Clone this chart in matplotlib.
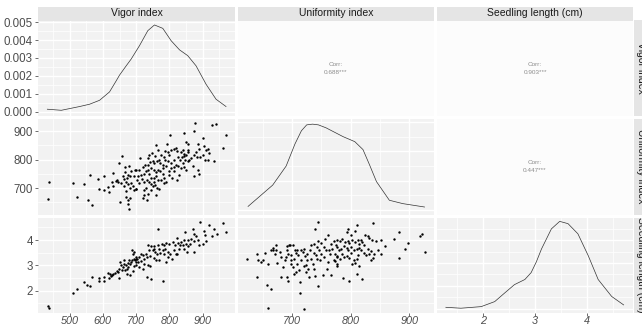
import matplotlib
matplotlib.use('Agg')
import matplotlib.pyplot as plt

plt.rcParams['font.family'] = ['Liberation Sans', 'DejaVu Sans']

# ---------------- data ----------------
variables = ['Vigor index', 'Uniformity index', 'Seedling length (cm)']
corr_labels = {(0, 1): '0.688***', (0, 2): '0.903***', (1, 2): '0.447***'}

# density curves (diagonal)
vigor_dens_x = [433, 475, 530, 560, 590, 620, 640, 650, 670, 685, 710, 735, 755, 780, 805, 830, 855, 880, 910,
                940, 970]
vigor_dens_y = [0.00013, 0.00007, 0.00028, 0.00041, 0.00063, 0.0011, 0.00172, 0.00204, 0.00256, 0.00294,
                0.00369, 0.00453, 0.00485, 0.00466, 0.00397, 0.00346, 0.00313, 0.00256, 0.00153, 0.00069,
                0.00028]
uni_dens_x = [625, 667, 690, 705, 716, 725, 735, 745, 758, 787, 807, 821, 832, 844, 866, 889, 926]
uni_dens_y = [0.00025, 0.0017, 0.0030, 0.0045, 0.0054, 0.0058, 0.00585, 0.0058, 0.0056, 0.0050, 0.00466,
              0.00412, 0.0031, 0.00194, 0.00067, 0.00044, 0.00021]
len_dens_x = [1.29, 1.58, 1.97, 2.23, 2.42, 2.61, 2.81, 2.93, 3.03, 3.13, 3.32, 3.48, 3.64, 3.83, 4.03, 4.22,
              4.48, 4.71]
len_dens_y = [0.012, 0.004, 0.018, 0.062, 0.137, 0.211, 0.256, 0.316, 0.41, 0.524, 0.70, 0.766, 0.746, 0.657,
              0.464, 0.256, 0.107, 0.033]

# scatter: vigor (x) vs uniformity (y)
vu_vigor = [439, 434, 511, 522, 542, 554, 562, 567, 586, 589, 602, 604, 614, 619, 626, 629, 630, 639, 642, 646,
            647, 652, 654, 656, 659, 662, 664, 666, 666, 668, 669, 670, 672, 674, 676, 679, 680, 682, 684, 682,
            675, 678, 690, 692, 694, 697, 699, 701, 684, 674,
            877, 927, 940, 970, 803, 843, 873, 900, 960, 792, 760, 850, 857, 887, 903, 910, 915, 890, 880, 875,
            883, 893, 900, 907, 920, 933, 917, 713, 740, 747, 758, 767, 775, 787, 795, 805, 815, 820, 835, 843,
            845, 850, 855, 837, 847, 855, 840, 845, 850, 835, 825, 820, 813, 805, 795, 787, 780, 773, 763, 755,
            750, 743, 735, 727, 720, 710, 700, 705, 715, 725, 730, 737, 745, 753, 760, 765, 773, 780, 785, 790,
            783, 775, 767, 760, 755, 745, 740, 733, 725, 717, 710, 700, 723, 730, 735, 745, 750, 757, 763, 770,
            760, 733, 720, 725, 800, 805, 813, 823, 830, 873, 890, 885, 870, 860, 865, 823, 800, 783, 815, 825,
            833, 840, 857, 745, 753, 740, 780, 790, 798, 807, 770, 735]
vu_uni = [723, 662, 718, 667, 715, 659, 747, 641, 732, 696, 741, 694, 703, 685, 720, 753, 706, 726, 727, 723,
          789, 650, 718, 814, 741, 733, 706, 773, 756, 688, 670, 723, 735, 745, 714, 776, 700, 741, 718, 665,
          643, 627, 706, 741, 694, 765, 697, 729, 759, 659,
          930, 921, 926, 888, 886, 894, 900, 876, 841, 855, 853, 862, 855, 855, 847, 833, 838, 838, 826, 818,
          808, 808, 818, 800, 823, 796, 797, 806, 818, 823, 812, 835, 815, 829, 827, 835, 839, 841, 826, 820,
          812, 818, 826, 808, 800, 794, 788, 773, 765, 770, 776, 782, 773, 788, 796, 800, 782, 788, 794, 788,
          794, 790, 782, 782, 773, 765, 765, 741, 747, 749, 759, 765, 770, 765, 756, 765, 759, 749, 735, 723,
          718, 729, 729, 741, 735, 737, 723, 729, 721, 733, 718, 698, 694, 700, 679, 694, 706, 712, 700, 696,
          674, 659, 665, 676, 759, 770, 759, 729, 747, 741, 749, 765, 776, 800, 806, 829, 815, 808, 800, 808,
          800, 835, 835, 714, 721, 749, 770, 776, 747, 735, 800, 806]

# scatter: vigor (x) vs seedling length (y)
vl_vigor = [434, 439, 511, 521, 542, 552, 562, 567, 587, 589, 602, 604, 614, 617, 622, 624, 627, 630, 636, 642,
            644, 647, 649, 652, 654, 656, 659, 662, 664, 666, 669, 671, 672, 674, 676, 679, 681, 682, 684, 686,
            688, 689, 691, 692, 694, 696, 698, 700, 702, 692,
            765, 892, 920, 935, 960, 970, 847, 870, 875, 903, 907, 927, 943, 910, 900, 890, 880, 885, 873, 865,
            855, 845, 835, 823, 827, 817, 810, 800, 790, 785, 777, 770, 765, 755, 745, 735, 740, 750, 757, 763,
            773, 780, 787, 795, 803, 813, 820, 830, 840, 850, 857, 863, 853, 875, 843, 730, 720, 710, 700, 705,
            715, 725, 733, 743, 753, 760, 770, 790, 797, 807, 700, 720, 737, 743, 732, 745, 780, 823, 833, 783,
            753, 715, 725, 710]
vl_len = [1.38, 1.33, 1.91, 2.07, 2.34, 2.21, 2.17, 2.54, 2.51, 2.37, 2.54, 2.37, 2.70, 2.51, 2.65, 2.57, 2.61,
          2.67, 2.70, 2.78, 2.74, 2.50, 2.87, 3.13, 3.00, 2.83, 2.93, 3.07, 3.20, 2.80, 3.00, 2.87, 2.65, 3.09,
          2.93, 3.22, 2.61, 3.04, 3.13, 3.22, 3.59, 3.46, 2.78, 3.26, 2.96, 3.20, 3.33, 3.13, 3.26, 3.53,
          4.45, 4.72, 4.58, 4.45, 4.67, 4.32, 4.32, 4.45, 4.25, 4.35, 4.18, 4.14, 4.25, 3.96, 3.86, 3.79, 4.14,
          3.99, 3.96, 4.05, 4.01, 3.99, 3.92, 4.09, 3.88, 3.79, 3.92, 3.86, 3.88, 3.79, 3.86, 3.66, 3.79, 3.75,
          3.75, 3.79, 3.59, 3.59, 3.53, 3.46, 3.49, 3.59, 3.66, 3.53, 3.43, 3.59, 3.43, 3.66, 3.79, 3.86, 3.75,
          3.86, 3.53, 3.53, 3.66, 3.46, 3.40, 3.33, 3.26, 3.13, 3.17, 3.26, 3.33, 3.36, 3.30, 3.20, 3.20, 3.13,
          3.33, 3.26, 3.00, 2.87, 3.00, 2.96, 2.54, 2.45, 2.38, 3.43, 3.79, 3.46, 3.66, 3.46, 3.07, 2.93]

# scatter: uniformity (x) vs seedling length (y)
ul_uni = [623, 641, 640, 642, 647, 651, 654, 657, 659, 664, 659, 664, 667, 668, 671, 672, 674, 680, 682, 685,
          688, 689, 691, 692, 693, 695, 697, 698, 699, 691, 693, 701, 701, 703, 704, 705, 707, 708, 709, 711,
          712, 714, 714, 715, 716, 718, 720, 721, 721, 722, 724, 725, 726, 728, 729, 731, 732, 733, 735, 737,
          738, 739, 739, 741, 742, 743, 745, 745, 745, 746, 748, 749, 750, 752, 754, 755, 756, 758, 759, 761,
          762, 763, 765, 766, 767, 769, 771, 772, 773, 775, 776, 738, 724, 707, 698, 672, 682,
          838, 810, 796, 793, 800, 807, 776, 782, 786, 790, 795, 798, 803, 808, 813, 817, 820, 825, 829, 832,
          836, 844, 851, 858, 874, 883, 897, 892, 918, 922, 927, 883, 776, 780, 784, 789, 793, 796, 801, 806,
          810, 814, 818, 823, 827, 831, 835, 838, 840, 851, 847, 777, 781, 785, 789, 794, 798, 801, 806, 811,
          813, 774, 776, 777, 802, 808, 814, 787, 798, 811, 819, 834, 829, 823, 815]
ul_len = [3.25, 3.43, 2.54, 3.22, 3.13, 3.20, 3.50, 2.21, 3.04, 2.05, 1.33, 3.59, 3.62, 3.70, 3.43, 3.79, 3.09,
          3.53, 2.54, 2.93, 3.20, 3.33, 3.59, 3.75, 3.46, 3.79, 3.79, 3.22, 3.07, 2.54, 2.38, 3.79, 2.93, 2.67,
          3.26, 3.59, 3.49, 3.62, 3.07, 3.40, 2.80, 2.34, 1.91, 3.59, 3.20, 3.53, 2.96, 1.29, 3.66, 3.36, 2.74,
          3.43, 3.20, 2.87, 2.54, 3.59, 3.26, 3.79, 3.07, 3.86, 3.49, 2.57, 4.45, 3.40, 3.26, 3.72, 3.96, 4.71,
          2.17, 3.59, 3.20, 3.88, 3.46, 2.61, 3.72, 3.33, 4.05, 3.59, 2.87, 4.18, 3.13, 3.59, 3.46, 3.86, 2.61,
          3.66, 3.20, 3.96, 3.46, 3.79, 3.33, 2.87, 3.00, 2.74, 3.40, 3.59, 3.33,
          4.67, 4.58, 4.45, 4.32, 4.18, 4.35, 3.99, 3.96, 4.05, 3.92, 3.96, 3.88, 3.99, 3.92, 4.01, 4.01, 3.92,
          4.18, 4.14, 4.09, 3.99, 3.96, 4.01, 3.75, 4.05, 4.32, 3.88, 3.66, 4.14, 4.22, 3.53, 3.30, 3.72, 3.59,
          3.66, 3.75, 3.70, 3.59, 3.72, 3.62, 3.66, 3.70, 3.59, 3.49, 3.40, 3.43, 3.57, 3.30, 3.43, 3.43, 3.59,
          3.36, 3.26, 3.43, 3.33, 3.36, 3.30, 3.49, 3.20, 3.26, 3.40, 3.17, 2.96, 3.07, 3.04, 3.09, 2.96, 2.51,
          2.38, 2.65, 2.47, 3.20, 3.66, 3.79, 3.86]

# axis settings
vig_lim = (405, 997)
uni_lim = (607, 943)
len_lim = (1.12, 4.89)
vig_major = [500, 600, 700, 800, 900]
vig_minor = [450, 550, 650, 750, 850, 950]
uni_major = [700, 800, 900]
uni_minor = [650, 750, 850]
len_major = [2, 3, 4]
len_minor = [1.5, 2.5, 3.5, 4.5]
dens_major = [0.000, 0.001, 0.002, 0.003, 0.004, 0.005]
dens_labels = ['0.000', '0.001', '0.002', '0.003', '0.004', '0.005']

# ---------------- figure ----------------
W, H = 642, 327
fig = plt.figure(figsize=(W / 100, H / 100), dpi=100)
fig.patch.set_facecolor('white')

cols = [(38, 235), (237.5, 434.5), (437, 633)]
rows = [(20.5, 116), (119, 214.5), (217.5, 313)]

PANEL_BG = '#F2F2F2'
STRIP_BG = '#E5E5E5'
TICK_COL = '#4D4D4D'


def box(x0, y0, x1, y1):
    return [x0 / W, 1 - y1 / H, (x1 - x0) / W, (y1 - y0) / H]


xlims = [vig_lim, uni_lim, len_lim]
xmaj = [vig_major, uni_major, len_major]
xmin = [vig_minor, uni_minor, len_minor]


def style(ax, r, c, ylim, ymaj, ymin):
    ax.set_facecolor(PANEL_BG)
    for s in ax.spines.values():
        s.set_visible(False)
    ax.set_xlim(*xlims[c])
    ax.set_ylim(*ylim)
    ax.set_xticks(xmaj[c])
    ax.set_xticks(xmin[c], minor=True)
    ax.set_yticks(ymaj)
    ax.set_yticks(ymin, minor=True)
    ax.grid(which='major', color='white', linewidth=1.0)
    ax.grid(which='minor', color='white', linewidth=0.5)
    ax.set_axisbelow(True)
    ax.tick_params(which='minor', length=0)
    ax.tick_params(axis='y', which='major', length=2.2, width=0.5, color='#333333', pad=1.5,
                   labelsize=8.3, labelcolor=TICK_COL)
    ax.tick_params(axis='x', which='major', length=1.8, width=0.5, color='#333333', pad=0.6,
                   labelsize=7.8, labelcolor=TICK_COL)
    if r != 2:
        ax.tick_params(axis='x', which='major', length=0, labelbottom=False)
    else:
        for lab in ax.get_xticklabels():
            lab.set_fontstyle('italic')
    if c != 0:
        ax.tick_params(axis='y', which='major', length=0, labelleft=False)


row_specs = [
    ((-0.00025, 0.0051), dens_major, [0.0005, 0.0015, 0.0025, 0.0035, 0.0045]),
    (uni_lim, uni_major, uni_minor),
    (len_lim, len_major, len_minor),
]

for r in range(3):
    for c in range(3):
        x0, x1 = cols[c]
        y0, y1 = rows[r]
        ax = fig.add_axes(box(x0, y0, x1, y1))
        if c > r:
            ax.set_facecolor('#FCFCFC')
            for s in ax.spines.values():
                s.set_visible(False)
            ax.set_xticks([])
            ax.set_yticks([])
            ax.text(0.5, 0.54, 'Corr:', transform=ax.transAxes, ha='center', va='center',
                    fontsize=4.6, color='#8C8C8C')
            ax.text(0.5, 0.46, corr_labels[(r, c)], transform=ax.transAxes, ha='center',
                    va='center', fontsize=4.6, color='#8C8C8C')
        elif r == c:
            if r == 0:
                ylim, ymaj, ymin = row_specs[0]
                style(ax, r, c, ylim, ymaj, ymin)
                ax.set_yticklabels(dens_labels)
                ax.plot(vigor_dens_x, vigor_dens_y, color='#333333', lw=0.5)
            elif r == 1:
                style(ax, r, c, (-0.0003, 0.0062), [0, 0.002, 0.004, 0.006],
                      [0.001, 0.003, 0.005])
                ax.plot(uni_dens_x, uni_dens_y, color='#333333', lw=0.5)
            else:
                style(ax, r, c, (-0.038, 0.80), [0, 0.2, 0.4, 0.6], [0.1, 0.3, 0.5, 0.7])
                ax.plot(len_dens_x, len_dens_y, color='#333333', lw=0.5)
        else:
            ylim, ymaj, ymin = row_specs[r]
            style(ax, r, c, ylim, ymaj, ymin)
            if (r, c) == (1, 0):
                ax.scatter(vu_vigor, vu_uni, s=3, c='black', linewidths=0)
            elif (r, c) == (2, 0):
                ax.scatter(vl_vigor, vl_len, s=3, c='black', linewidths=0)
            else:
                ax.scatter(ul_uni, ul_len, s=3, c='black', linewidths=0)

# top strips
for c in range(3):
    x0, x1 = cols[c]
    sax = fig.add_axes(box(x0, 6.5, x1, 20.5))
    sax.set_facecolor(STRIP_BG)
    sax.set_xticks([])
    sax.set_yticks([])
    for s in sax.spines.values():
        s.set_visible(False)
    sax.text(0.5, 0.5, variables[c], transform=sax.transAxes, ha='center', va='center',
             fontsize=7.5, color='#1A1A1A')

# right strips (cut by the figure edge, as in the reference)
for r in range(3):
    y0, y1 = rows[r]
    sax = fig.add_axes(box(634, y0, 648, y1))
    sax.set_facecolor(STRIP_BG)
    sax.set_xticks([])
    sax.set_yticks([])
    for s in sax.spines.values():
        s.set_visible(False)
    sax.text(0.5, 0.5, variables[r], transform=sax.transAxes, ha='center', va='center',
             fontsize=7.5, color='#1A1A1A', rotation=-90)

fig.savefig('out.png', dpi=100, facecolor='white')
